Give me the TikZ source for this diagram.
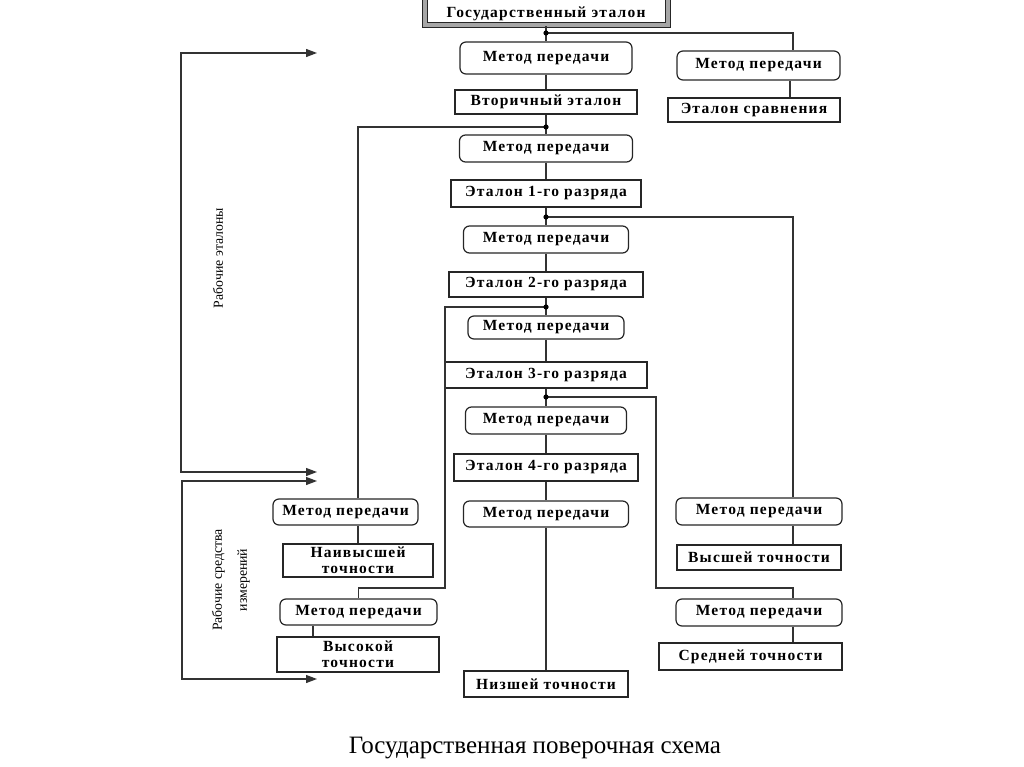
\documentclass[tikz,border=0pt]{standalone}
\usepackage{fontspec}
\setmainfont{Liberation Serif}
\newfontfamily\bx{Liberation Serif}[LetterSpace=8]
\usetikzlibrary{arrows.meta,calc}
\begin{document}
\begin{tikzpicture}[x=1pt,y=-1pt,
  box/.style={draw=black!85, line width=1.2pt, fill=white, inner sep=0pt, align=center,
    font=\bx\bfseries\fontsize{15.5}{16}\selectfont},
  rbox/.style={box, rounded corners=6pt},
  ln/.style={draw=black!80, line width=1.2pt},
  arr/.style={ln, {Triangle[length=11pt,width=8pt]}-{Triangle[length=11pt,width=8pt]}},
  side/.style={rotate=90, font=\fontsize{13.8}{25}\selectfont, align=center}
]
\useasboundingbox (0,0) rectangle (1024,767);
% central column
\node[box, double=gray!70, double distance=4pt, line width=1pt, minimum width=243pt, minimum height=29pt] (gos) at (546,11) {\raisebox{-6.5pt}[0pt][0pt]{Государственный эталон}};
\node[rbox, minimum width=172pt, minimum height=32pt] (m1) at (546,58) {Метод передачи};
\node[box, minimum width=182pt, minimum height=24pt] (vtor) at (546,102) {Вторичный эталон};
\node[rbox, minimum width=173pt, minimum height=27pt] (m2) at (546,148.5) {Метод передачи};
\node[box, minimum width=190pt, minimum height=27pt] (e1) at (546,193.5) {Эталон 1-го разряда};
\node[rbox, minimum width=165pt, minimum height=27pt] (m3) at (546,239.5) {Метод передачи};
\node[box, minimum width=194pt, minimum height=25pt] (e2) at (546,284.5) {Эталон 2-го разряда};
\node[rbox, minimum width=156pt, minimum height=23pt] (m4) at (546,327.5) {Метод передачи};
\node[box, minimum width=202pt, minimum height=26pt] (e3) at (546,375) {Эталон 3-го разряда};
\node[rbox, minimum width=161pt, minimum height=27pt] (m5) at (546,420.5) {Метод передачи};
\node[box, minimum width=184pt, minimum height=27pt] (e4) at (546,467.5) {Эталон 4-го разряда};
\node[rbox, minimum width=165pt, minimum height=26pt] (m6) at (546,514) {Метод передачи};
\node[box, minimum width=164pt, minimum height=26pt] (low) at (546,684) {Низшей точности};
% right column
\node[rbox, minimum width=163pt, minimum height=29pt] (mR1) at (758.5,65.5) {Метод передачи};
\node[box, minimum width=172pt, minimum height=24pt] (esr) at (754,110) {Эталон сравнения};
\node[rbox, minimum width=166pt, minimum height=27pt] (mR2) at (759,511.5) {Метод передачи};
\node[box, minimum width=164pt, minimum height=25pt] (vys) at (759,557.5) {Высшей точности};
\node[rbox, minimum width=166pt, minimum height=27pt] (mR3) at (759,612.5) {Метод передачи};
\node[box, minimum width=183pt, minimum height=27pt] (sred) at (750.5,656.5) {Средней точности};
% left column
\node[rbox, minimum width=145pt, minimum height=26pt] (mL1) at (345.5,512) {Метод передачи};
\node[box, minimum width=150pt, minimum height=33pt] (nai) at (358,560.5) {Наивысшей\\точности};
\node[rbox, minimum width=157pt, minimum height=26pt] (mL2) at (358.5,612) {Метод передачи};
\node[box, minimum width=162pt, minimum height=35pt] (vysok) at (358,654.5) {Высокой\\точности};
% junctions
\coordinate (d0) at (546,33);
\coordinate (d1) at (546,127);
\coordinate (d2) at (546,217);
\coordinate (d3) at (546,307);
\coordinate (d4) at (546,397);
\coordinate (k3) at (445,588);
\coordinate (k4) at (656,588);
% main line
\draw[ln] (gos.south) -- (m1.north) (m1.south) -- (vtor.north) (vtor.south) -- (m2.north)
  (m2.south) -- (e1.north) (e1.south) -- (m3.north) (m3.south) -- (e2.north)
  (e2.south) -- (m4.north) (m4.south) -- (e3.north) (e3.south) -- (m5.north)
  (m5.south) -- (e4.north) (e4.south) -- (m6.north) (m6.south) -- (low.north);
% branches
\draw[ln] (d0) -| ([xshift=34.5pt]mR1.north);
\draw[ln] ([xshift=31.5pt]mR1.south) -- ([xshift=36pt]esr.north);
\draw[ln] (d1) -| ([xshift=12.5pt]mL1.north);
\draw[ln] ([xshift=12.5pt]mL1.south) -- (nai.north);
\draw[ln] (d2) -| ([xshift=34pt]mR2.north);
\draw[ln] ([xshift=34pt]mR2.south) -- ([xshift=34pt]vys.north);
\draw[ln] (d3) -| (k3) -| (mL2.north);
\draw[ln] ([xshift=-45.5pt]mL2.south) -- ([xshift=-45pt]vysok.north);
\draw[ln] (d4) -| (k4) -| ([xshift=34pt]mR3.north);
\draw[ln] ([xshift=34pt]mR3.south) -- ([xshift=42.5pt]sred.north);
\foreach \d in {d0,d1,d2,d3,d4} \fill (\d) circle (2.6pt);
% brackets
\coordinate (ua) at (317,53); \coordinate (uc1) at (181,53);
\coordinate (uc2) at (181,472); \coordinate (ub) at (317,472);
\coordinate (la) at (317,481); \coordinate (lc1) at (182,481);
\coordinate (lc2) at (182,679); \coordinate (lb) at (317,679);
\draw[arr] (ua) -- (uc1) -- (uc2) -- (ub);
\draw[arr] (la) -- (lc1) -- (lc2) -- (lb);
\node[side] (lbl1) at (218,258) {Рабочие эталоны};
\node[side] (lbl2) at (231,580) {Рабочие средства\\измерений};
\node[font=\fontsize{25}{28}\selectfont] (cap) at (535,748) {Государственная поверочная схема};
\end{tikzpicture}
\end{document}
